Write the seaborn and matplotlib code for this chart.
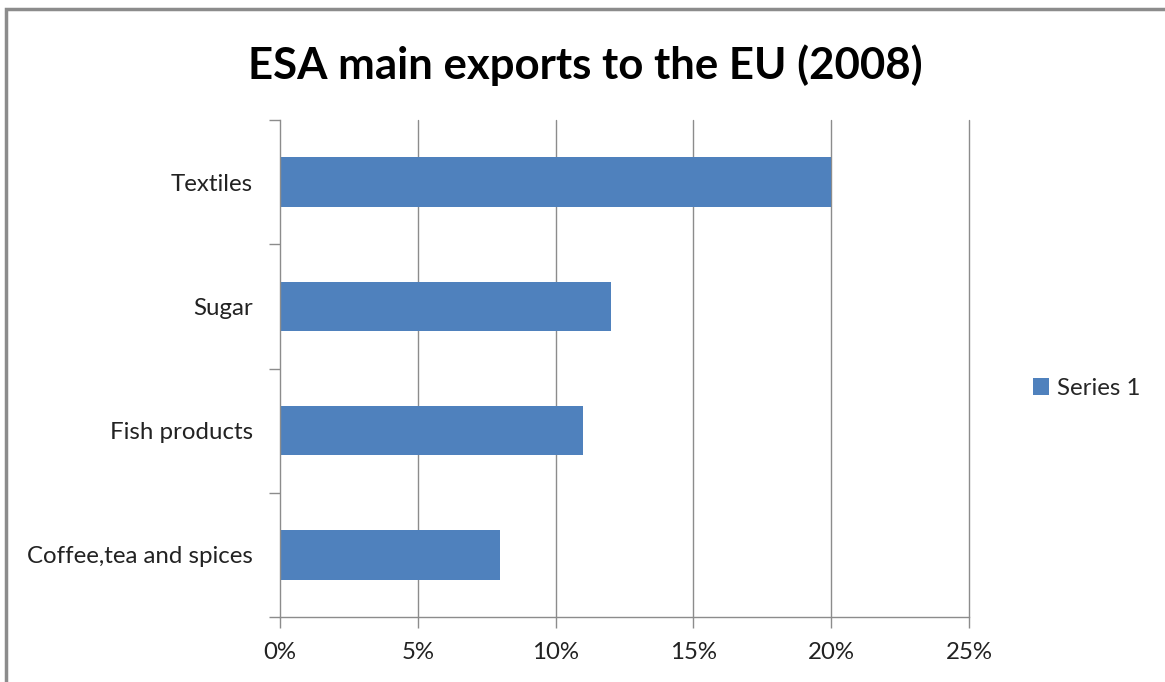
import matplotlib
matplotlib.use("Agg")
import matplotlib.pyplot as plt
import seaborn as sns
import pandas as pd
from matplotlib.patches import Rectangle, Patch
from matplotlib.ticker import FixedLocator, FuncFormatter

categories = ["Textiles", "Sugar", "Fish products", "Coffee,tea and spices"]
values = [20, 12, 11, 8]
x_ticks = [0, 5, 10, 15, 20, 25]
series_name = "Series 1"
title = "ESA main exports to the EU (2008)"

sns.set_theme(style="white")
plt.rcParams['font.family'] = ['Lato', 'DejaVu Sans']

df = pd.DataFrame({"category": categories, "value": values})

fig = plt.figure(figsize=(11.65, 6.82), dpi=100)
ax = fig.add_axes([280/1165, 1 - 617/682, (969-280)/1165, (617-120)/682])

sns.barplot(data=df, x="value", y="category", orient="h", color="#4F81BD",
            saturation=1, width=0.4, ax=ax, order=categories,
            edgecolor="none", linewidth=0)

grid_c = "#8C8C8C"
ax.set_xlim(0, 25)
ax.set_ylim(3.5, -0.5)
ax.set_xticks(x_ticks)
ax.xaxis.set_major_formatter(FuncFormatter(lambda v, p: f"{int(v)}%"))
for x in x_ticks[1:]:
    ax.axvline(x, color=grid_c, lw=1, zorder=0, clip_on=False)
ax.set_axisbelow(True)

ax.yaxis.set_minor_locator(FixedLocator([-0.5, 0.5, 1.5, 2.5, 3.5]))
ax.tick_params(axis="y", which="major", length=0, pad=19.5, labelsize=17.3, labelcolor="#222222")
ax.tick_params(axis="y", which="minor", length=8, width=1, color=grid_c, direction="out", left=True)
ax.tick_params(axis="x", which="major", length=8, width=1, color=grid_c, direction="out",
               bottom=True, pad=10, labelsize=17.3, labelcolor="#222222")
ax.set_xlabel("")
ax.set_ylabel("")
for s in ["top", "right"]:
    ax.spines[s].set_visible(False)
for s in ["left", "bottom"]:
    ax.spines[s].set_color(grid_c)
    ax.spines[s].set_linewidth(1)

fig.text(585/1165, 1 - 65/682, title, ha="center", va="center", fontsize=31.5, fontweight="bold", color="black")

handles = [Patch(facecolor="#4F81BD", edgecolor="none", label=series_name)]
fig.legend(handles=handles, loc="center left", bbox_to_anchor=(1011/1165, 1 - 388/682),
           frameon=False, fontsize=17.3, handlelength=0.7, handleheight=0.7, handletextpad=0.3)

fig.add_artist(Rectangle((6/1165, -0.1), 1.2, 1.1 - 9/682, transform=fig.transFigure,
                         fill=False, edgecolor="#8C8C8C", lw=2.5, clip_on=False))

fig.savefig("out.png", dpi=100)
